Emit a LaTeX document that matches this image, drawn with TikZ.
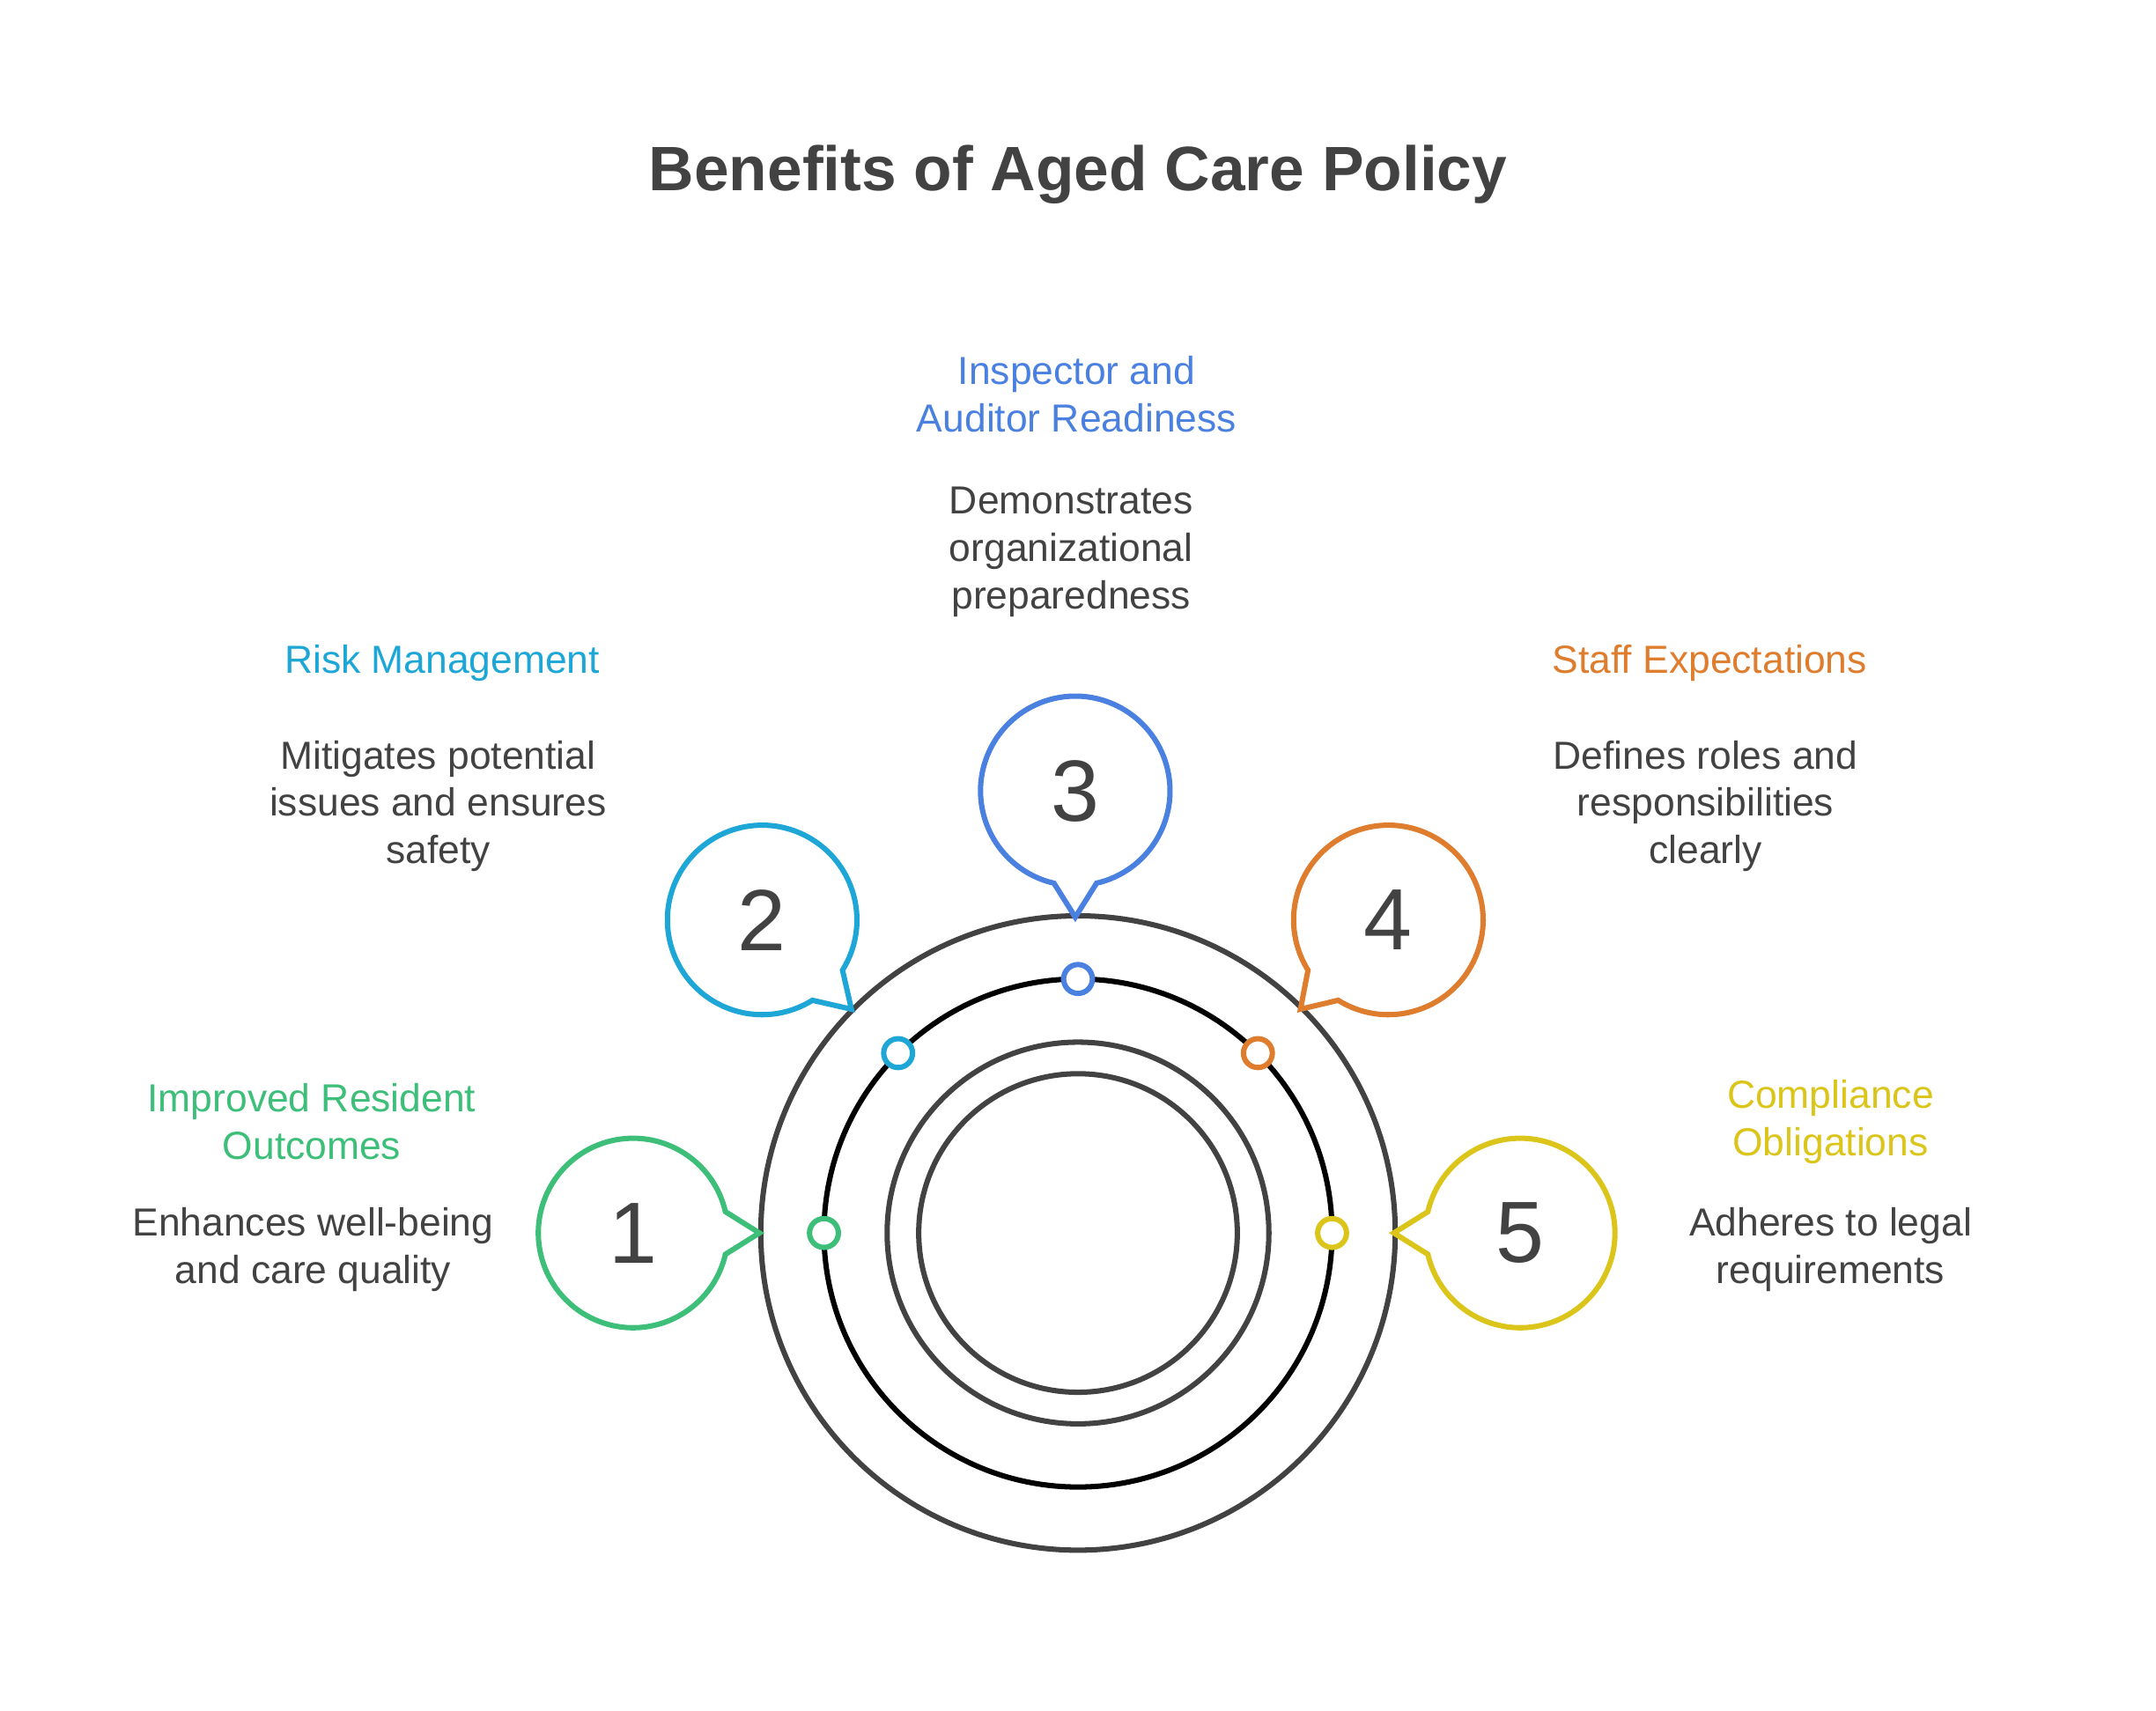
\documentclass[tikz,border=0pt]{standalone}
\usepackage{fontspec}
\setmainfont{Liberation Sans}
\usepackage{xcolor}
\usetikzlibrary{positioning,calc}
\definecolor{txt}{HTML}{424242}
\definecolor{cgreen}{HTML}{3DBF7A}
\definecolor{ccyan}{HTML}{1EA7D6}
\definecolor{cblue}{HTML}{4A80E0}
\definecolor{corange}{HTML}{DE7D2E}
\definecolor{cyellow}{HTML}{DCC51A}
\begin{document}
\begin{tikzpicture}[x=0.01cm, y=0.01cm]
    \tikzstyle{ring} = [draw=txt, line width=1.1pt]
    \tikzstyle{dot} = [draw, fill=white, circle, line width=1.1pt, minimum size=0.21cm, inner sep=0pt]
    \tikzstyle{head} = [font=\fontsize{8.1}{9.8}\selectfont, align=center]
    \tikzstyle{desc} = [font=\fontsize{8.1}{9.8}\selectfont, align=center, text=txt]
    \tikzstyle{num} = [font=\fontsize{18}{20}\selectfont, text=txt]
    \useasboundingbox (0,0) rectangle (1570,1246);

    \node [font=\bfseries\fontsize{13}{15}\selectfont, text=txt] (title) at (785,1119) {Benefits of Aged Care Policy};

    % target rings
    \coordinate (c) at (785,348);
    \draw [ring] (c) circle (231);
    \draw [line width=1.1pt] (c) circle (185);
    \draw [ring] (c) circle (139);
    \draw [ring] (c) circle (116);

    % bubbles: centre, tip, tail angle, colour, number
    \foreach \bx/\by/\tx/\ty/\ang/\col/\n in {461/348/553/348/0/cgreen/1, 555/576/620/511/-45/ccyan/2, 783/670/783/578/-90/cblue/3, 1011/576/947/511/225/corange/4, 1107/348/1015/348/180/cyellow/5}{
        \node [num] (n\n) at (\bx,\by) {\n};
        \coordinate (t\n) at (\tx,\ty);
        \draw [\col, line width=1.1pt, line join=miter] (n\n.center) ++(\ang+13:69) arc[start angle=\ang+13, end angle=\ang+347, radius=69] -- (t\n) -- cycle;
    }

    % dots on the ring
    \node [dot, draw=cgreen] (d1) at (600,348) {};
    \node [dot, draw=ccyan] (d2) at (654,479) {};
    \node [dot, draw=cblue] (d3) at (785,533) {};
    \node [dot, draw=corange] (d4) at (916,479) {};
    \node [dot, draw=cyellow] (d5) at (970,348) {};

    % texts
    \node [head, text=cblue] (h3) at (784,959) {Inspector and\\Auditor Readiness};
    \node [desc] (s3) at (780,844) {Demonstrates\\organizational\\preparedness};
    \node [head, text=ccyan] (h2) at (322,763) {Risk Management};
    \node [desc] (s2) at (319,659) {Mitigates potential\\issues and ensures\\safety};
    \node [head, text=corange] (h4) at (1245,763) {Staff Expectations};
    \node [desc] (s4) at (1242,659) {Defines roles and\\responsibilities\\clearly};
    \node [head, text=cgreen] (h1) at (227,429) {Improved Resident\\Outcomes};
    \node [desc] (s1) at (228,336) {Enhances well-being\\and care quality};
    \node [head, text=cyellow] (h5) at (1333,429) {Compliance\\Obligations};
    \node [desc] (s5) at (1333,336) {Adheres to legal\\requirements};
\end{tikzpicture}
\end{document}
